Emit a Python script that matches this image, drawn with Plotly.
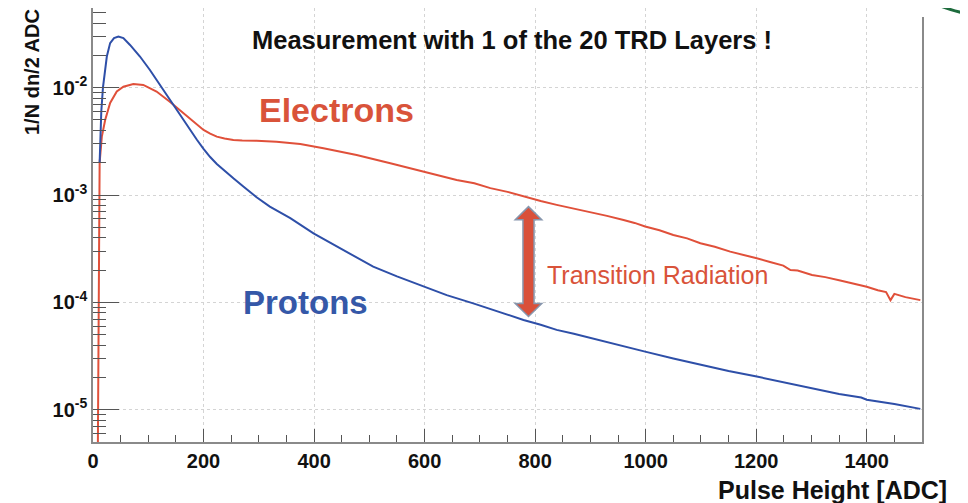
import math
import plotly.graph_objects as go

# ---------------- data ----------------
proton_x = [12, 15, 18, 22, 25, 31, 38, 46, 55, 67, 85, 103, 121, 139, 157, 176, 188, 200, 212, 224,
            236, 254, 272, 296, 320, 357, 399, 447, 507, 550, 598, 640, 688, 730, 779, 810, 839, 870,
            900, 950, 999, 1050, 1099, 1150, 1201, 1250, 1301, 1350, 1390, 1400, 1450, 1497]
proton_y = [2.0e-3, 6.0e-3, 1.0e-2, 1.6e-2, 1.95e-2, 2.6e-2, 2.9e-2, 3.0e-2, 2.9e-2, 2.5e-2, 1.95e-2,
            1.46e-2, 1.06e-2, 7.7e-3, 5.56e-3, 4.04e-3, 3.27e-3, 2.69e-3, 2.26e-3, 1.95e-3,
            1.71e-3, 1.43e-3, 1.20e-3, 9.55e-4, 7.8e-4, 6.1e-4, 4.4e-4, 3.2e-4, 2.15e-4, 1.75e-4,
            1.40e-4, 1.17e-4, 9.8e-5, 8.3e-5, 6.87e-5, 6.2e-5, 5.55e-5, 5.1e-5,
            4.65e-5, 4.0e-5, 3.48e-5, 3.0e-5, 2.62e-5, 2.3e-5, 2.04e-5, 1.8e-5, 1.58e-5, 1.40e-5,
            1.30e-5, 1.24e-5, 1.13e-5, 1.02e-5]

electron_x = [8, 12, 16, 22, 31, 43, 55, 73, 91, 115, 139, 157, 176, 188, 200, 212, 224, 238, 254,
              270, 296, 332, 357, 375, 417, 477, 538, 598, 630, 658, 690, 719, 750, 779, 810, 839,
              870, 900, 930, 960, 980, 999, 1025, 1050, 1075, 1099, 1125, 1153, 1178, 1201, 1225,
              1249, 1262, 1275, 1301, 1325, 1352, 1375, 1400, 1420, 1435, 1443, 1450, 1470, 1485, 1497]
electron_y = [1.0e-6, 2.0e-3, 3.5e-3, 5.0e-3, 7.2e-3, 9.2e-3, 1.02e-2, 1.08e-2, 1.06e-2, 9.2e-3, 7.4e-3,
              6.2e-3, 5.2e-3, 4.57e-3, 4.04e-3, 3.73e-3, 3.5e-3, 3.36e-3, 3.26e-3,
              3.22e-3, 3.21e-3, 3.14e-3, 3.08e-3, 2.99e-3, 2.73e-3, 2.36e-3, 1.98e-3, 1.65e-3, 1.52e-3,
              1.38e-3, 1.29e-3, 1.16e-3, 1.07e-3, 9.7e-4, 8.8e-4, 8.1e-4,
              7.5e-4, 7.0e-4, 6.4e-4, 5.85e-4, 5.5e-4, 5.1e-4, 4.7e-4, 4.25e-4, 3.95e-4, 3.56e-4,
              3.3e-4, 2.97e-4, 2.78e-4, 2.58e-4, 2.38e-4,
              2.2e-4, 2.0e-4, 1.98e-4, 1.80e-4, 1.72e-4, 1.60e-4, 1.50e-4, 1.40e-4, 1.30e-4,
              1.25e-4, 1.05e-4, 1.2e-4, 1.12e-4, 1.08e-4, 1.05e-4]

x_ticks = [0, 200, 400, 600, 800, 1000, 1200, 1400]
y_tick_vals = [1e-5, 1e-4, 1e-3, 1e-2]
y_tick_text = ["10<sup>-5</sup>", "10<sup>-4</sup>", "10<sup>-3</sup>", "10<sup>-2</sup>"]

x_range = [0, 1500]
y_log_range = [-5.30, -1.258]

# annotation for the transition-radiation arrow
arrow_x = 788
arrow_top = 7.8e-4
arrow_bottom = 7.4e-5

RED = "#e0503a"
BLUE = "#2e4fa8"
FONT = "Liberation Sans"

# screen geometry (the page body adds an 8px offset)
OFF = 8
PL, PR, PT, PB = 93, 922, 8, 442          # plot area edges in screen pixels
FIG_W, FIG_H = 968 - OFF, 503 - OFF


def px_x(p):
    return (p - PL) / (PR - PL)


def px_y(p):
    return (PB - p) / (PB - PT)


fig = go.Figure()
fig.add_trace(go.Scatter(x=electron_x, y=electron_y, mode="lines",
                         line=dict(color=RED, width=2), showlegend=False, hoverinfo="skip"))
fig.add_trace(go.Scatter(x=proton_x, y=proton_y, mode="lines",
                         line=dict(color=BLUE, width=2), showlegend=False, hoverinfo="skip"))

fig.update_layout(
    width=FIG_W, height=FIG_H,
    margin=dict(l=PL - OFF, r=FIG_W - (PR - OFF), t=PT - OFF, b=FIG_H - (PB - OFF), autoexpand=False),
    paper_bgcolor="white", plot_bgcolor="white",
    font=dict(family=FONT, color="black"),
)
fig.update_xaxes(
    range=x_range, tickvals=x_ticks, ticks="inside", ticklen=13, tickcolor="#555",
    tickwidth=1.2,
    minor=dict(ticks="inside", ticklen=7, dtick=50, tickcolor="#555", showgrid=False),
    showline=True, linecolor="#8a8a8a", linewidth=1.5, mirror=True,
    showgrid=True, gridcolor="#d4d4d4", griddash="3px,3px", gridwidth=1,
    tickfont=dict(size=20, family=FONT, weight="bold", color="#111"),
    zeroline=False,
)
fig.update_yaxes(
    type="log", range=y_log_range, tickvals=y_tick_vals, ticktext=y_tick_text,
    ticks="inside", ticklen=26, tickcolor="#555", tickwidth=1.2,
    minor=dict(ticks="inside", ticklen=13, dtick="D1", tickcolor="#555", showgrid=False),
    showline=True, linecolor="#8a8a8a", linewidth=1.5, mirror=True,
    showgrid=True, gridcolor="#d4d4d4", griddash="3px,3px", gridwidth=1,
    tickfont=dict(size=20, family=FONT, weight="bold", color="#111"),
    zeroline=False,
)


def ypaper(v):
    return (math.log10(v) - y_log_range[0]) / (y_log_range[1] - y_log_range[0])


# double-headed arrow
shaft = 10
head = 24
hl = 0.030
yt = ypaper(arrow_top)
yb = ypaper(arrow_bottom)
xa = arrow_x
path = (f"M {xa-shaft},{yb+hl} L {xa-head},{yb+hl} L {xa},{yb} L {xa+head},{yb+hl} "
        f"L {xa+shaft},{yb+hl} L {xa+shaft},{yt-hl} L {xa+head},{yt-hl} L {xa},{yt} "
        f"L {xa-head},{yt-hl} L {xa-shaft},{yt-hl} Z")
fig.add_shape(type="path", path=path, xref="x", yref="paper",
              fillcolor="#d9503a", line=dict(color="#8796ad", width=1.5), layer="above")


def lg(v):
    return math.log10(v)


fig.add_annotation(x=758, y=lg(2.78e-2), text="Measurement with 1 of the 20 TRD Layers !",
                   showarrow=False, font=dict(size=25.5, family=FONT, weight="bold", color="#111"))
fig.add_annotation(x=440, y=lg(6.2e-3), text="Electrons", showarrow=False,
                   font=dict(size=34, family=FONT, weight="bold", color="#d9533a"))
fig.add_annotation(x=384, y=lg(9.9e-5), text="Protons", showarrow=False,
                   font=dict(size=33, family=FONT, weight="bold", color="#3558a8"))
fig.add_annotation(x=1021, y=lg(1.8e-4), text="Transition Radiation", showarrow=False,
                   font=dict(size=25, family=FONT, color="#d9533a"))

# axis titles
fig.add_annotation(xref="paper", yref="paper", x=px_x(949), y=px_y(490),
                   xanchor="right", yanchor="middle", text="Pulse Height [ADC]", showarrow=False,
                   font=dict(size=25, family=FONT, weight="bold", color="#111"))
fig.add_annotation(xref="paper", yref="paper", x=px_x(32), y=px_y(72),
                   xanchor="center", yanchor="middle", textangle=-90, text="1/N dn/2 ADC",
                   showarrow=False, font=dict(size=20, family=FONT, weight="bold", color="#111"))

# stamp/logo fragment in the top-right corner
fig.add_shape(type="rect", xref="paper", yref="paper",
              x0=px_x(893), x1=px_x(975), y0=px_y(17), y1=px_y(0),
              fillcolor="white", line=dict(width=0), layer="above")
fig.add_shape(type="circle", xref="paper", yref="paper",
              x0=px_x(833), x1=px_x(1167), y0=px_y(17), y1=px_y(-317),
              fillcolor="white", line=dict(color="#1d6b3c", width=3), layer="above")

fig.write_html("out.html")
